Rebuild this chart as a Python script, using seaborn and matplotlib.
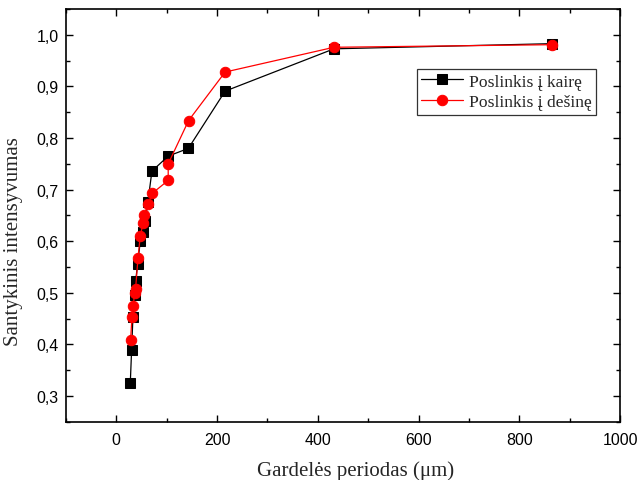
import matplotlib
matplotlib.use("Agg")
import matplotlib.pyplot as plt
import seaborn as sns
import pandas as pd
from matplotlib.ticker import MultipleLocator, FuncFormatter

# Data
left_x = [27.8, 30.4, 33, 37, 38.3, 42.3, 47.6, 52.8, 57.6, 62.8, 70.7, 103, 143, 216, 432, 864]
left_y = [0.326, 0.390, 0.453, 0.495, 0.522, 0.556, 0.600, 0.618, 0.640, 0.677, 0.736, 0.765, 0.780, 0.891, 0.973, 0.983]
right_x = [28.4, 31, 33.7, 36.3, 38.3, 43, 47.6, 53.6, 55.6, 62.8, 71.5, 103, 103, 143.5, 216, 432, 864]
right_y = [0.408, 0.453, 0.475, 0.500, 0.508, 0.567, 0.611, 0.636, 0.651, 0.672, 0.693, 0.718, 0.750, 0.834, 0.928, 0.976, 0.981]
label_left = "Poslinkis į kairę"
label_right = "Poslinkis į dešinę"

sns.set_style("ticks")
plt.rcParams['font.family'] = ['Liberation Sans', 'DejaVu Sans']

fig = plt.figure(figsize=(6.4, 4.81), dpi=100)
ax = fig.add_axes([0.103, 0.121, 0.866, 0.858])

df_l = pd.DataFrame({"x": left_x, "y": left_y})
df_r = pd.DataFrame({"x": right_x, "y": right_y})

sns.lineplot(data=df_l, x="x", y="y", ax=ax, estimator=None, sort=False,
             color="black", linewidth=0.9, marker="s", markersize=6.5,
             markeredgecolor="black", markerfacecolor="black", label=label_left)
sns.lineplot(data=df_r, x="x", y="y", ax=ax, estimator=None, sort=False,
             color="red", linewidth=0.9, marker="o", markersize=7.5,
             markeredgecolor="red", markerfacecolor="red", label=label_right)

ax.set_xlim(-100, 1000)
ax.set_ylim(0.25, 1.05)
ax.xaxis.set_major_locator(MultipleLocator(200))
ax.xaxis.set_minor_locator(MultipleLocator(100))
ax.yaxis.set_major_locator(MultipleLocator(0.1))
ax.yaxis.set_minor_locator(MultipleLocator(0.05))
ax.yaxis.set_major_formatter(FuncFormatter(lambda v, p: f"{v:.1f}".replace('.', ',')))

ax.tick_params(which="both", direction="in", top=True, right=True, colors="black",
               labelsize=11.5, width=1.0)
ax.tick_params(which="major", length=5)
ax.tick_params(which="minor", length=3)
ax.tick_params(axis="x", pad=7)
ax.tick_params(axis="y", pad=5)
for s in ax.spines.values():
    s.set_visible(True)
    s.set_linewidth(1.2)
    s.set_color("black")

ax.set_xlabel("Gardelės periodas (μm)", fontsize=15, family="Liberation Serif")
ax.set_ylabel("Santykinis intensyvumas", fontsize=15, family="Liberation Serif")
ax.xaxis.set_label_coords(0.523, -0.092)
ax.yaxis.set_label_coords(-0.078, 0.44)

leg = ax.legend(loc="upper right", bbox_to_anchor=(0.956, 0.855), borderaxespad=0,
                prop={"family": "Liberation Serif", "size": 12.6}, frameon=True,
                fancybox=False, handlelength=2.4, handletextpad=0.3,
                borderpad=0.25, labelspacing=0.25)
leg.get_frame().set_edgecolor("black")
leg.get_frame().set_linewidth(0.9)

fig.savefig("out.png", dpi=100)
